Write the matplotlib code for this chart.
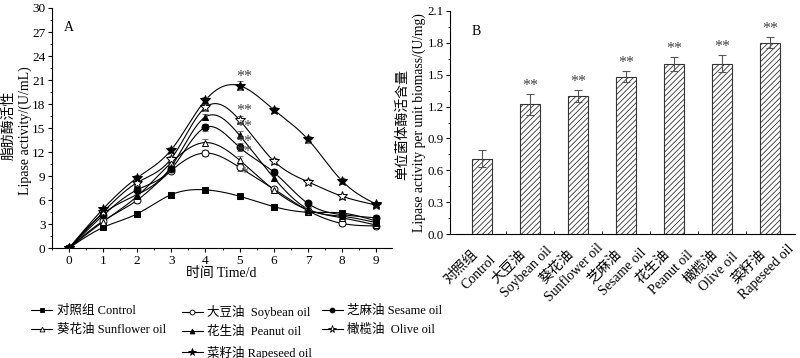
import numpy as np
import matplotlib
matplotlib.use("Agg")
import matplotlib.pyplot as plt
from matplotlib.lines import Line2D
from matplotlib.ticker import MultipleLocator, FormatStrFormatter
from matplotlib.transforms import ScaledTranslation, blended_transform_factory

plt.rcParams['font.family'] = ['Liberation Serif', 'Noto Sans CJK SC']
plt.rcParams['hatch.linewidth'] = 0.6
plt.rcParams['hatch.color'] = '#444444'

# ---------------- data: panel A ----------------
days = [0, 1, 2, 3, 4, 5, 6, 7, 8, 9]
control   = [0, 2.6, 4.3, 6.7, 7.3, 6.5, 5.2, 4.5, 4.4, 3.4]
soybean   = [0, 3.4, 6.0, 9.7, 11.9, 10.1, 7.4, 4.7, 3.1, 2.8]
sesame    = [0, 4.1, 7.3, 9.9, 15.1, 12.6, 9.5, 5.6, 4.2, 3.8]
sunflower = [0, 3.3, 6.5, 10.7, 13.2, 11.0, 7.3, 4.8, 3.8, 2.9]
peanut    = [0, 4.3, 6.7, 10.2, 16.4, 14.1, 8.8, 4.9, 4.0, 3.2]
olive     = [0, 4.5, 8.2, 11.2, 17.6, 16.0, 10.9, 8.3, 6.5, 5.4]
rapeseed  = [0, 4.9, 8.8, 12.3, 18.5, 20.3, 17.3, 13.6, 8.4, 5.5]

err_control   = [0, 0.2, 0.3, 0.3, 0.3, 0.3, 0.3, 0.3, 0.3, 0.3]
err_soybean   = [0, 0.3, 0.3, 0.3, 0.4, 0.5, 0.3, 0.3, 0.3, 0.3]
err_sesame    = [0, 0.3, 0.3, 0.3, 0.4, 0.5, 0.4, 0.3, 0.3, 0.3]
err_sunflower = [0, 0.3, 0.3, 0.3, 0.4, 0.5, 0.3, 0.3, 0.3, 0.3]
err_peanut    = [0, 0.3, 0.3, 0.3, 0.4, 0.5, 0.4, 0.3, 0.3, 0.3]
err_olive     = [0, 0.3, 0.3, 0.3, 0.4, 0.5, 0.4, 0.3, 0.3, 0.3]
err_rapeseed  = [0, 0.3, 0.3, 0.4, 0.4, 0.6, 0.4, 0.4, 0.4, 0.3]

labels_A = ['对照组 Control', '大豆油  Soybean oil', '芝麻油 Sesame oil',
            '葵花油 Sunflower oil', '花生油  Peanut oil', '橄榄油  Olive oil',
            '菜籽油 Rapeseed oil']
sig_A = ['', '*', '**', '**', '**', '**', '**']
sig_offset_A = [0, -0.8, 0.7, 1.0, 1.1, 1.1, 1.1]

# ---------------- data: panel B ----------------
cats_cn = ['对照组', '大豆油', '葵花油', '芝麻油', '花生油', '橄榄油', '菜籽油']
cats_en = ['Control', 'Soybean oil', 'Sunflower oil', 'Sesame oil',
           'Peanut oil', 'Olive oil', 'Rapeseed oil']
unit_activity = [0.71, 1.22, 1.30, 1.48, 1.60, 1.60, 1.80]
unit_err = [0.08, 0.10, 0.06, 0.05, 0.07, 0.08, 0.05]
sig_B = ['', '**', '**', '**', '**', '**', '**']


def natural_spline(x, y, n=300):
    x = np.asarray(x, float)
    y = np.asarray(y, float)
    N = len(x)
    h = np.diff(x)
    A = np.zeros((N, N))
    b = np.zeros(N)
    A[0, 0] = 1
    A[-1, -1] = 1
    for i in range(1, N - 1):
        A[i, i - 1] = h[i - 1]
        A[i, i] = 2 * (h[i - 1] + h[i])
        A[i, i + 1] = h[i]
        b[i] = 6 * ((y[i + 1] - y[i]) / h[i] - (y[i] - y[i - 1]) / h[i - 1])
    M = np.linalg.solve(A, b)
    xs = np.linspace(x[0], x[-1], n)
    idx = np.clip(np.searchsorted(x, xs) - 1, 0, N - 2)
    x0, x1 = x[idx], x[idx + 1]
    hh = x1 - x0
    t0 = x1 - xs
    t1 = xs - x0
    ys = (M[idx] * t0 ** 3 / (6 * hh) + M[idx + 1] * t1 ** 3 / (6 * hh)
          + (y[idx] / hh - M[idx] * hh / 6) * t0
          + (y[idx + 1] / hh - M[idx + 1] * hh / 6) * t1)
    return xs, ys


fig = plt.figure(figsize=(8, 3.58), dpi=100)

# ---------------- panel A ----------------
axA = fig.add_axes([0.0646, 0.3064, 0.4250, 0.6713])
series = [control, soybean, sesame, sunflower, peanut, olive, rapeseed]
errs = [err_control, err_soybean, err_sesame, err_sunflower, err_peanut,
        err_olive, err_rapeseed]
styles = [('s', 'black'), ('o', 'white'), ('o', 'black'), ('^', 'white'),
          ('^', 'black'), ('*', 'white'), ('*', 'black')]
handles = []
for vals, e, (mk, fc), lab, sig, off in zip(series, errs, styles, labels_A,
                                            sig_A, sig_offset_A):
    xs, ys = natural_spline(days, vals)
    axA.plot(xs, ys, color='black', lw=0.8, zorder=2)
    axA.errorbar(days, vals, yerr=e, fmt='none', ecolor='#777777',
                 elinewidth=0.8, capsize=2, capthick=0.8, zorder=3)
    ms = 7 if mk == '*' else 5
    axA.plot(days, vals, ls='none', marker=mk, ms=ms, mfc=fc, mec='black',
             mew=0.7, zorder=4)
    handles.append(Line2D([0], [0], color='black', lw=0.8, marker=mk,
                          ms=ms - 1.5, mfc=fc, mec='black', mew=0.6, label=lab))
    if sig:
        axA.text(5.12, vals[5] + off, sig, ha='center', va='center',
                 fontsize=11.5, color='#444444', zorder=5)

axA.set_xlim(-0.5, 9.45)
axA.set_ylim(0, 30)
axA.set_xticks(days)
axA.xaxis.set_minor_locator(MultipleLocator(0.5))
axA.yaxis.set_major_locator(MultipleLocator(3))
axA.yaxis.set_minor_locator(MultipleLocator(1.5))
for s in ['top', 'right']:
    axA.spines[s].set_visible(False)
axA.tick_params(which='major', direction='out', length=3, width=0.8,
                labelsize=9.5, pad=1.5)
axA.tick_params(which='minor', direction='out', length=1.5, width=0.6)
axA.set_xlabel('时间 Time/d', fontsize=10, labelpad=0)
axA.text(-0.125, 0.51, '脂肪酶活性', rotation=90, transform=axA.transAxes,
         ha='center', va='center', fontsize=10)
axA.text(-0.079, 0.49, 'Lipase activity/(U/mL)', rotation=90,
         transform=axA.transAxes, ha='center', va='center', fontsize=10)
axA.text(0.05, 0.92, 'A', transform=axA.transAxes, fontsize=10,
         ha='center', va='center')

# legend: three columns placed individually
cols = [[handles[0], handles[3]],
        [handles[1], handles[4], handles[6]],
        [handles[2], handles[5]]]
xcols = [0.039, 0.227, 0.402]
for hs, xc in zip(cols, xcols):
    fig.legend(handles=hs, loc='upper left', bbox_to_anchor=(xc, 0.148),
               frameon=False, fontsize=9, handlelength=1.7,
               handletextpad=0.35, labelspacing=0.58, borderpad=0,
               borderaxespad=0)

# ---------------- panel B ----------------
axB = fig.add_axes([0.5625, 0.3455, 0.43125, 0.6245])
xpos = np.arange(len(unit_activity))
axB.bar(xpos, unit_activity, width=0.42, color='white', edgecolor='#333333',
        linewidth=0.8, hatch='//////', zorder=2)
axB.errorbar(xpos, unit_activity, yerr=unit_err, fmt='none', ecolor='#555555',
             elinewidth=0.8, capsize=3, capthick=0.8, zorder=3)
for xi, v, e, s in zip(xpos, unit_activity, unit_err, sig_B):
    if s:
        axB.text(xi, v + e, s, ha='center', va='bottom', fontsize=11.5,
                 color='#444444')
axB.set_xlim(-0.66, 6.52)
axB.set_ylim(0, 2.1)
axB.yaxis.set_major_locator(MultipleLocator(0.3))
axB.yaxis.set_minor_locator(MultipleLocator(0.15))
axB.yaxis.set_major_formatter(FormatStrFormatter('%.1f'))
axB.set_xticks(xpos)
axB.set_xticklabels([])
axB.set_xticks(xpos[:-1] + 0.5, minor=True)

# two-line rotated category labels (Chinese above, English below)
base = blended_transform_factory(axB.transData, axB.transAxes)
tr_cn = base + ScaledTranslation(-0.21, -0.33, fig.dpi_scale_trans)
tr_en = base + ScaledTranslation(-0.03, -0.38, fig.dpi_scale_trans)
for xi, cn, en in zip(xpos, cats_cn, cats_en):
    axB.text(xi, 0, cn, transform=tr_cn, rotation=45, ha='center',
             va='center', rotation_mode='anchor', fontsize=10)
    axB.text(xi, 0, en, transform=tr_en, rotation=45, ha='center',
             va='center', rotation_mode='anchor', fontsize=10)

for s in ['top', 'right']:
    axB.spines[s].set_visible(False)
axB.tick_params(axis='y', which='major', direction='out', length=3, width=0.8,
                labelsize=9.3, pad=1.5)
axB.tick_params(axis='y', which='minor', direction='out', length=1.5, width=0.6)
axB.tick_params(axis='x', which='major', length=0)
axB.tick_params(axis='x', which='minor', direction='in', length=2, width=0.6)
axB.text(-0.136, 0.49, '单位菌体酶活含量', rotation=90, transform=axB.transAxes,
         ha='center', va='center', fontsize=10)
axB.text(-0.089, 0.5, 'Lipase activity per unit biomass/(U/mg)', rotation=90,
         transform=axB.transAxes, ha='center', va='center', fontsize=9.8)
axB.text(0.075, 0.905, 'B', transform=axB.transAxes, fontsize=10,
         ha='center', va='center')

fig.savefig('out.png', dpi=100)
